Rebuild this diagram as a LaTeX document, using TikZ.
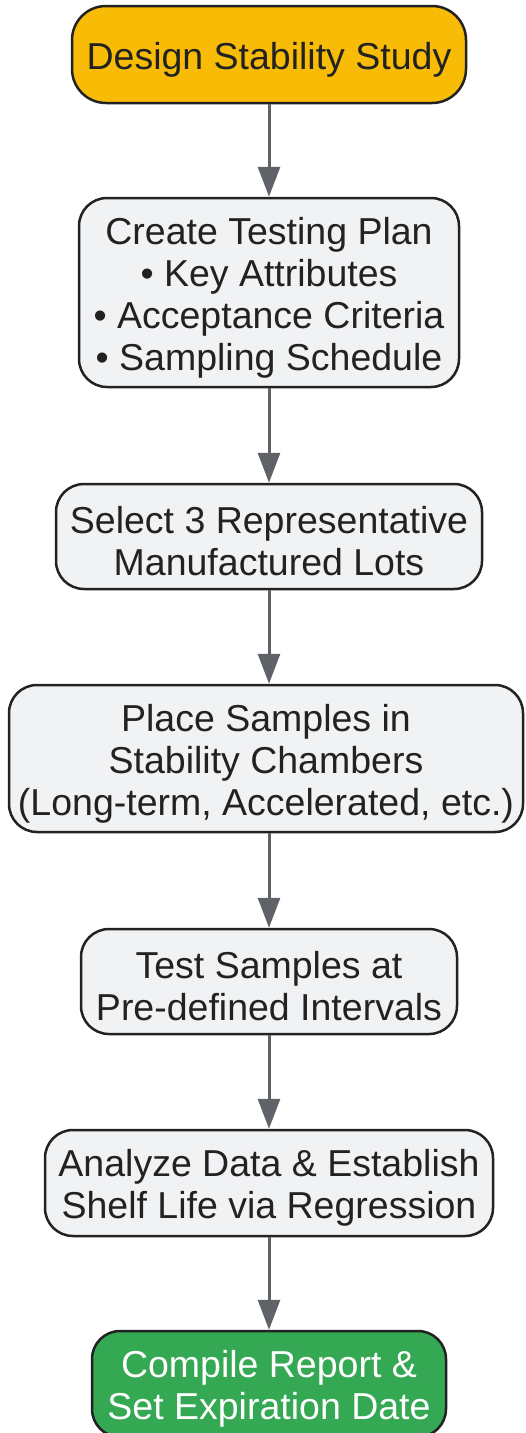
\documentclass[tikz,border=0pt]{standalone}
\usepackage{fontspec}
\setmainfont{Liberation Sans}
\usetikzlibrary{arrows.meta}
\definecolor{amber}{HTML}{F9BC06}
\definecolor{paleg}{HTML}{F1F2F4}
\definecolor{leaf}{HTML}{34A853}
\definecolor{ink}{HTML}{222222}
\definecolor{slate}{HTML}{5F6368}
\newcommand{\topstrut}{\rule{0pt}{37pt}}

\begin{document}
\begin{tikzpicture}[x=1pt, y=1pt,
  box/.style={draw=ink, line width=2.5pt, rounded corners=28pt, fill=paleg,
    text=ink, align=center, inner sep=0pt,
    font=\fontsize{37.5}{42}\selectfont},
  flow/.style={-{Triangle[length=30pt, width=22pt]}, slate, line width=3pt}]

% Frame
\useasboundingbox (0,0) rectangle (526,-1433);
\fill[white] (0,0) rectangle (526,-1433);

% =========== Steps ===========
\node[box, fill=amber, rounded corners=34pt, minimum width=394pt, minimum height=97pt]
  (design) at (269,-54.5) {\topstrut Design Stability Study};

\node[box, minimum width=380pt, minimum height=189pt]
  (plan) at (269,-292.5) {\topstrut Create Testing Plan\\
  \textbullet\ Key Attributes\\
  \textbullet\ Acceptance Criteria\\
  \textbullet\ Sampling Schedule};

\node[box, minimum width=426pt, minimum height=105pt]
  (lots) at (269,-536.5) {\topstrut Select 3 Representative\\Manufactured Lots};

\node[box, minimum width=514pt, minimum height=147pt]
  (chamber) at (266,-758.5) {\topstrut Place Samples in\\Stability Chambers\\(Long-term, Accelerated, etc.)};

\node[box, minimum width=376pt, minimum height=105pt]
  (test) at (269,-981.5) {\topstrut Test Samples at\\Pre-defined Intervals};

\node[box, minimum width=448pt, minimum height=106pt]
  (analyze) at (269,-1183) {\topstrut Analyze Data \& Establish\\Shelf Life via Regression};

\node[box, fill=leaf, text=white, minimum width=354pt, minimum height=106pt]
  (report) at (269,-1384) {\topstrut Compile Report \&\\Set Expiration Date};

% =========== Connectors ===========
\draw[flow] (design) -- (plan);
\draw[flow] (plan) -- (lots);
\draw[flow] (lots.south -| plan.south) -- (chamber.north -| plan.south);
\draw[flow] (chamber.south -| plan.south) -- (test);
\draw[flow] (test) -- (analyze);
\draw[flow] (analyze) -- (report);

\end{tikzpicture}
\end{document}
